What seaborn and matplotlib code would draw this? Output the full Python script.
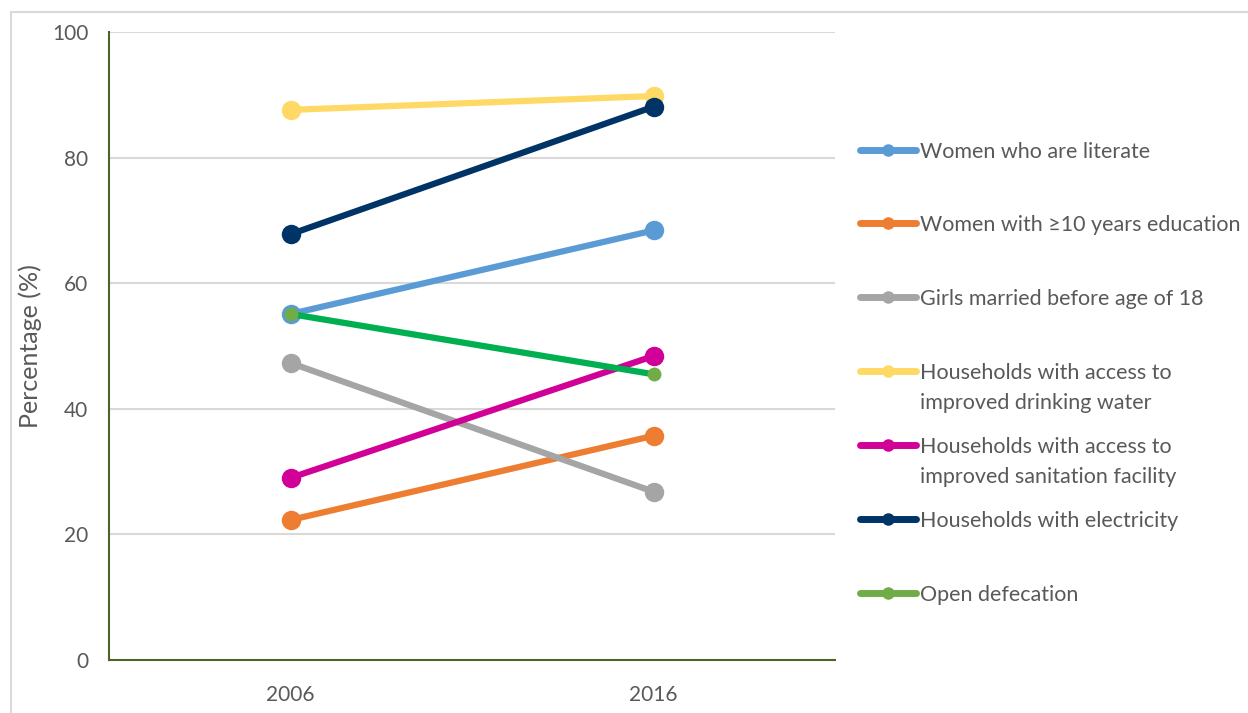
import pandas as pd
import matplotlib
matplotlib.use('Agg')
import matplotlib.pyplot as plt
import seaborn as sns
from matplotlib.lines import Line2D
from matplotlib.patches import Rectangle

# dados
anos = ['2006', '2016']
series = [
    'Women who are literate',
    'Women with \u226510 years education',
    'Girls married before age of 18',
    'Households with access to\nimproved drinking water',
    'Households with access to\nimproved sanitation facility',
    'Households with electricity',
    'Open defecation',
]
literate = [55.1, 68.4]
education = [22.3, 35.7]
married = [47.3, 26.8]
water = [87.6, 89.8]
sanitation = [29.0, 48.4]
electricity = [67.8, 88.1]
open_def = [55.1, 45.5]
valores = [literate, education, married, water, sanitation, electricity, open_def]

cores_linha = ['#5B9BD5', '#ED7D31', '#A5A5A5', '#FFD966', '#D10096', '#003366', '#00B050']
cores_marcador = ['#5B9BD5', '#ED7D31', '#A5A5A5', '#FFD966', '#D10096', '#003366', '#70AD47']
tam_marcador = [14, 14, 14, 14, 14, 14, 10]

sns.set_style('white')
plt.rcParams['font.family'] = ['Lato', 'DejaVu Sans']
cinza_texto = '#595959'

fig = plt.figure(figsize=(12.48, 7.13), dpi=100)
ax = fig.add_axes([109 / 1248, 1 - 660 / 713, (835 - 109) / 1248, (660 - 32) / 713])

for nome, vals, cl, cm, ms in zip(series, valores, cores_linha, cores_marcador, tam_marcador):
    df = pd.DataFrame({'Ano': anos, 'Valor': vals})
    sns.lineplot(data=df, x='Ano', y='Valor', ax=ax, color=cl, linewidth=4.5,
                 marker='o', markersize=ms, markerfacecolor=cm, markeredgecolor=cm,
                 markeredgewidth=0, legend=False)

ax.set_xlim(-0.5, 1.5)
ax.set_ylim(0, 100)
ax.set_yticks([0, 20, 40, 60, 80, 100])
ax.yaxis.grid(True, color='#D9D9D9', linewidth=1.5)
ax.set_axisbelow(True)
ax.tick_params(axis='both', length=0, labelsize=15, labelcolor=cinza_texto)
ax.tick_params(axis='y', pad=15)
ax.tick_params(axis='x', pad=18)
ax.set_xlabel('')
ax.set_ylabel('Percentage (%)', fontsize=18, color=cinza_texto, labelpad=7)
for lado in ['top', 'right']:
    ax.spines[lado].set_visible(False)
for lado in ['left', 'bottom']:
    ax.spines[lado].set_color('#4F6228')
    ax.spines[lado].set_linewidth(1.5)

# legenda manual no estilo do Excel (cada entrada com o mesmo espaco)
tam_leg = 15.5
em_px = tam_leg * 100 / 72
y_legenda = [150, 223, 297, 371, 445, 519, 593]
cores_leg = ['#5B9BD5', '#ED7D31', '#A5A5A5', '#FFD966', '#D10096', '#003366', '#70AD47']
for nome, yp, cor in zip(series, y_legenda, cores_leg):
    yf = 1 - yp / 713
    fig.add_artist(Line2D([860 / 1248, 916 / 1248], [yf, yf], color=cor, linewidth=5,
                          solid_capstyle='round'))
    fig.add_artist(Line2D([888 / 1248], [yf], color=cor, marker='o', markersize=9,
                          markeredgewidth=0))
    fig.text(920 / 1248, yf + 0.37 * em_px / 713, nome, fontsize=tam_leg, color=cinza_texto,
             va='top', ha='left', linespacing=1.65)

# moldura do grafico
fig.add_artist(Rectangle((11 / 1248, -0.05), 1.2, 1 - 12 / 713 + 0.05, fill=False,
                         edgecolor='#D9D9D9', linewidth=1.5, transform=fig.transFigure))

plt.savefig('out.png', dpi=100)
